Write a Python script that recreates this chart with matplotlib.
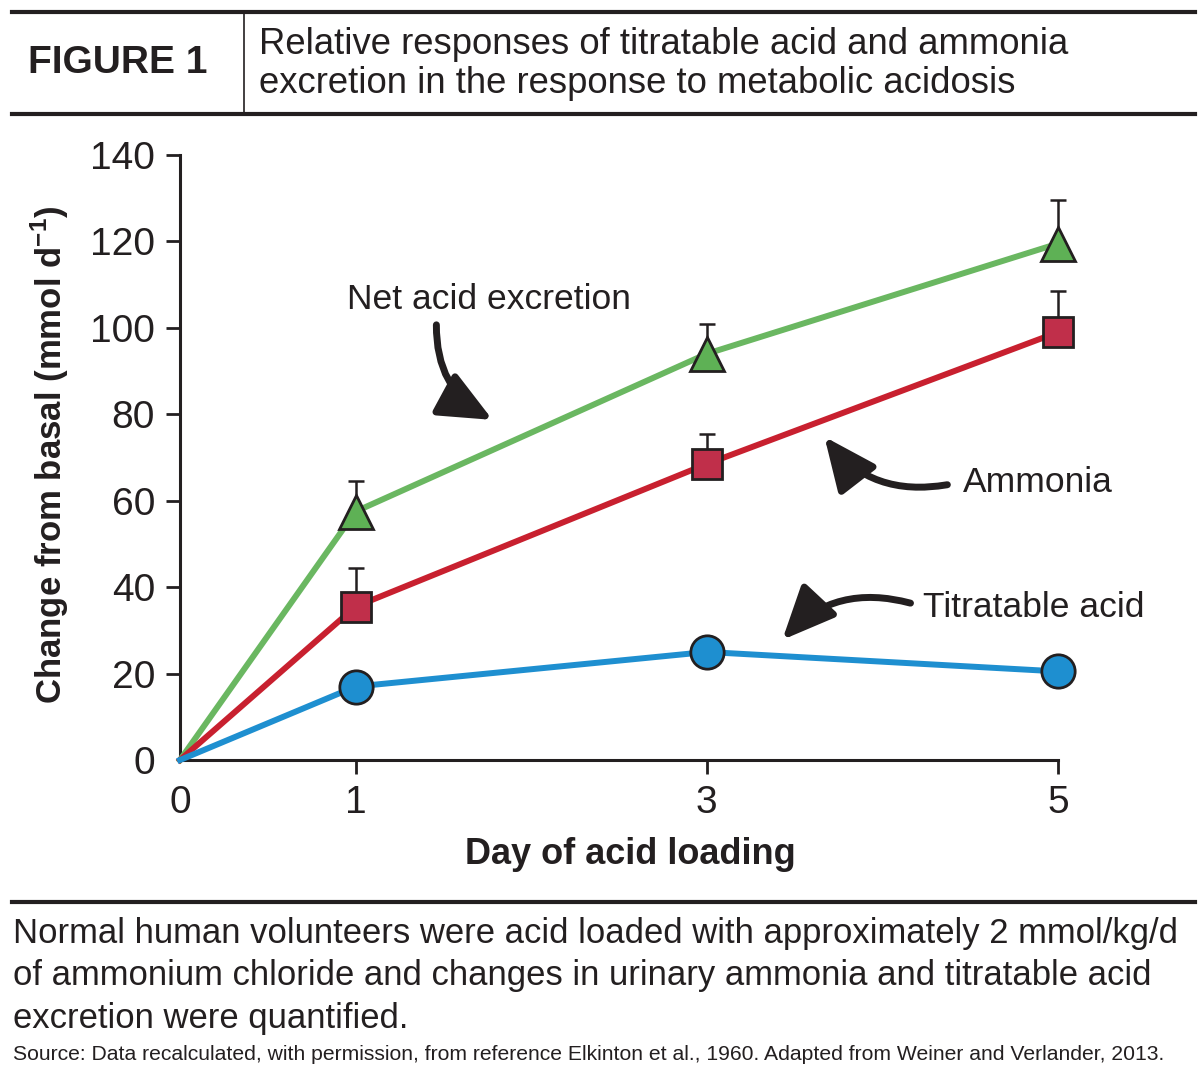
import numpy as np
import matplotlib.pyplot as plt
from matplotlib.lines import Line2D

# data
days = [0, 1, 3, 5]
net_acid = [0, 57.5, 94, 119.5]
net_acid_err = [0, 7, 7, 10]
ammonia = [0, 35.5, 68.5, 99]
ammonia_err = [0, 9, 7, 9.5]
titratable = [0, 17, 25, 20.5]

xticks = [0, 1, 3, 5]
yticks = [0, 20, 40, 60, 80, 100, 120, 140]

GREEN_LINE = '#6ab761'
GREEN_FILL = '#5eb155'
RED_LINE = '#c8202f'
RED_FILL = '#c02f4a'
BLUE = '#1e8fd0'
DARK = '#231f20'

plt.rcParams['font.family'] = ['Liberation Sans', 'DejaVu Sans']
plt.rcParams['mathtext.fontset'] = 'custom'
plt.rcParams['mathtext.rm'] = 'Liberation Sans'
plt.rcParams['mathtext.bf'] = 'Liberation Sans:bold'

fig = plt.figure(figsize=(12, 10.9), dpi=100)
ax = fig.add_axes([0.15, 1 - 760 / 1090, 878 / 1200, 605 / 1090])

lw = 4.3
ms_kw = dict(markeredgecolor=DARK, markeredgewidth=2, clip_on=False)

# error bars (upper only)
ax.errorbar(days[1:], net_acid[1:], yerr=[np.zeros(3), net_acid_err[1:]], fmt='none',
            ecolor=DARK, elinewidth=1.8, capsize=6, capthick=1.8, zorder=2, clip_on=False)
ax.errorbar(days[1:], ammonia[1:], yerr=[np.zeros(3), ammonia_err[1:]], fmt='none',
            ecolor=DARK, elinewidth=1.8, capsize=6, capthick=1.8, zorder=2, clip_on=False)

ax.plot(days, net_acid, color=GREEN_LINE, lw=lw, zorder=3, clip_on=False)
ax.plot(days, ammonia, color=RED_LINE, lw=lw, zorder=3, clip_on=False)
ax.plot(days, titratable, color=BLUE, lw=lw, zorder=3, clip_on=False)

ax.plot(days[1:], net_acid[1:], ls='none', marker='^', ms=25, markerfacecolor=GREEN_FILL, zorder=4, **ms_kw)
ax.plot(days[1:], ammonia[1:], ls='none', marker='s', ms=21, markerfacecolor=RED_FILL, zorder=4, **ms_kw)
ax.plot(days[1:], titratable[1:], ls='none', marker='o', ms=24, markerfacecolor=BLUE, zorder=4, **ms_kw)

ax.set_xlim(0, 5)
ax.set_ylim(0, 140)
ax.set_xticks(xticks)
ax.set_yticks(yticks)
ax.tick_params(axis='both', direction='out', length=10, width=2, color=DARK,
               labelsize=28, labelcolor=DARK)
ax.tick_params(axis='y', pad=8)
ax.tick_params(axis='x', pad=8)
ax.xaxis.get_major_ticks()[0].tick1line.set_visible(False)
ax.yaxis.get_major_ticks()[0].tick1line.set_visible(False)
for s in ['top', 'right']:
    ax.spines[s].set_visible(False)
for s in ['left', 'bottom']:
    ax.spines[s].set_linewidth(2.2)
    ax.spines[s].set_color(DARK)

ax.set_xlabel('Day of acid loading', fontsize=26, fontweight='bold', color=DARK, va='center')
ax.xaxis.set_label_coords(0.5125, -0.157)
ax.set_ylabel(r'Change from basal (mmol d$^{\mathbf{-1}}$)', fontsize=25, fontweight='bold',
              color=DARK, va='center')
ax.yaxis.set_label_coords(-0.148, 0.504)

# annotations
ax.text(0.95, 106.5, 'Net acid excretion', fontsize=25.5, color=DARK, ha='left', va='center')
ax.text(4.46, 64.1, 'Ammonia', fontsize=25.5, color=DARK, ha='left', va='center')
ax.text(4.23, 35.4, 'Titratable acid', fontsize=25.5, color=DARK, ha='left', va='center')

arrow_kw = dict(arrowstyle='-|>,head_length=0.9,head_width=0.4', color=DARK, lw=5,
                mutation_scale=36, shrinkA=0, shrinkB=0)
ax.annotate('', xy=(1.78, 78.7), xytext=(1.46, 100.7),
            arrowprops=dict(connectionstyle='arc3,rad=0.3', **arrow_kw))
ax.annotate('', xy=(3.67, 74.8), xytext=(4.37, 63.7),
            arrowprops=dict(connectionstyle='arc3,rad=-0.3', **arrow_kw))
ax.annotate('', xy=(3.43, 27.8), xytext=(4.16, 36.3),
            arrowprops=dict(connectionstyle='arc3,rad=0.3', **arrow_kw))

# header box
def fy(py):
    return 1 - py / 1090

fig.add_artist(Line2D([12 / 1200, 1195 / 1200], [fy(12), fy(12)], color=DARK, lw=3))
fig.add_artist(Line2D([12 / 1200, 1195 / 1200], [fy(114), fy(114)], color=DARK, lw=3))
fig.add_artist(Line2D([244 / 1200, 244 / 1200], [fy(12), fy(114)], color=DARK, lw=1.2))
fig.add_artist(Line2D([12 / 1200, 1195 / 1200], [fy(902), fy(902)], color=DARK, lw=3))

fig.text(28 / 1200, fy(63), 'FIGURE 1', fontsize=28, fontweight='bold', color=DARK,
         ha='left', va='center')
fig.text(259 / 1200, fy(64), 'Relative responses of titratable acid and ammonia\n'
         'excretion in the response to metabolic acidosis',
         fontsize=26.3, color=DARK, ha='left', va='center', linespacing=1.12)

fig.text(13 / 1200, fy(976), 'Normal human volunteers were acid loaded with approximately 2 mmol/kg/d\n'
         'of ammonium chloride and changes in urinary ammonia and titratable acid\n'
         'excretion were quantified.',
         fontsize=24.9, color=DARK, ha='left', va='center', linespacing=1.38)
fig.text(13 / 1200, fy(1055), 'Source: Data recalculated, with permission, from reference Elkinton et al., 1960. '
         'Adapted from Weiner and Verlander, 2013.',
         fontsize=15.2, color=DARK, ha='left', va='center')

fig.savefig('out.png', dpi=100)
